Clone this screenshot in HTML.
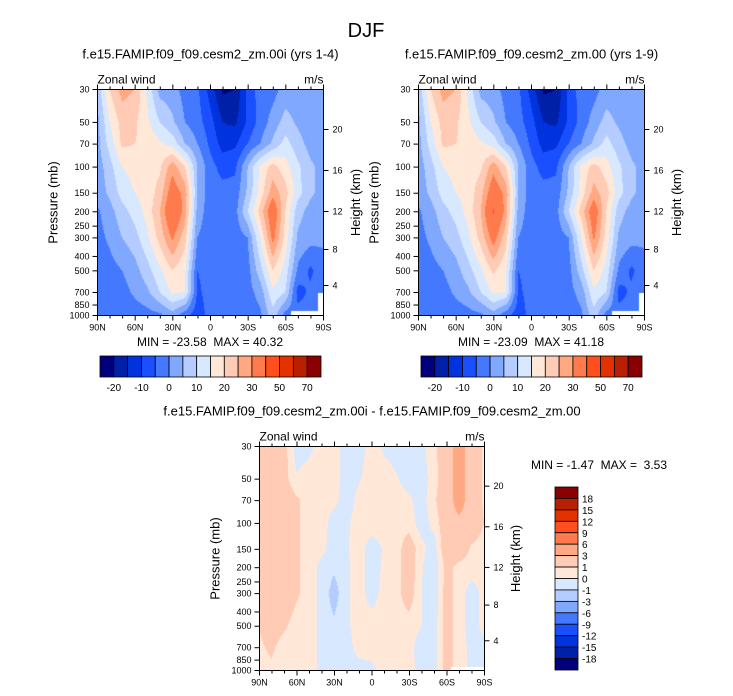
<!DOCTYPE html>
<html><head><meta charset="utf-8">
<style>
body{margin:0;background:#fff;width:733px;height:696px;overflow:hidden;position:relative;font-family:"Liberation Sans",sans-serif}
canvas{position:absolute}
svg{position:absolute;left:0;top:0}
</style></head>
<body>
<canvas id="c1" width="226" height="226" style="left:97px;top:89px"></canvas>
<canvas id="c2" width="226" height="226" style="left:418px;top:89px"></canvas>
<canvas id="c3" width="225" height="224" style="left:259px;top:446px"></canvas>
<svg id="ov" width="733" height="696"></svg>
<script>
// ---- data ----
const lats = [90,80,70,60,50,40,30,20,10,0,-10,-20,-30,-40,-50,-60,-70,-80,-90];
const plev = [30,50,70,100,150,200,300,500,700,1000];
const uA = [
 [6,20,27,25,14,3,2,-2,-4,-12,-21,-20,-8,-3,-2,2,2,2,2],
 [3,15,22,21,16,10,6,0,-3,-8,-15,-16,-9,-3,2,7,4,2,2],
 [3,12,21,20,19,16,13,5,0,-6,-12,-11,-5,0,6,12,7,3,2],
 [2,8,15,17,18,19,28,20,5,-3,-7,-6,5,16,22,17,11,6,3],
 [2,6,12,15,17,22,34,28,5,-3,-3,-3,6,17,28,22,12,6,3],
 [-1,3,8,12,17,25,38,28,3,-3,-3,-2,10,22,36,20,7,3,3],
 [-2,1,5,8,14,22,31,22,0,-3,-3,-3,0,15,32,18,4,2,1],
 [-3,-2,0,3,8,14,20,16,-5,-3,-3,-3,-2,8,20,13,-1,-6,-2],
 [-3,-3,-2,1,4,10,16,15,-6,-3,-3,-3,-2,2,14,10,-7,-4,-2],
 [-3,-3,-3,-3,-2,-1,3,-3,-8,-3,-3,-3,-3,-1,8,-2,-3,-3,-3]
];
const uB = [
 [6,20,27,25,14,3,2,-2,-4,-12,-21,-20,-8,-3,-2,2,2,2,2],
 [3,15,22,21,16,10,6,0,-3,-8,-15,-16,-9,-3,2,7,4,2,2],
 [3,12,21,20,19,16,13,5,0,-6,-12,-11,-5,0,6,12,7,3,2],
 [2,8,15,17,18,19,28,20,5,-3,-7,-6,5,16,22,17,11,6,3],
 [2,6,12,15,17,23,35,28,5,-3,-3,-3,6,17,27,22,12,6,3],
 [-1,3,8,12,17,25,41,28,3,-3,-3,-2,10,22,35,20,7,3,3],
 [-2,1,5,8,14,22,33,22,0,-3,-3,-3,0,15,31,18,4,2,1],
 [-3,-2,0,3,8,14,21,16,-5,-3,-3,-3,-2,8,20,13,-1,-6,-2],
 [-3,-3,-2,1,4,10,16,15,-6,-3,-3,-3,-2,2,14,10,-7,-4,-2],
 [-3,-3,-3,-3,-2,-1,3,-3,-8,-3,-3,-3,-3,-1,8,-2,-3,-3,-3]
];
const uDiff = [
 [1.2,2,1.5,-0.5,-0.3,0.5,0.5,-0.5,-0.5,0.5,-0.2,-0.5,-0.5,-0.3,0.7,2,4,2,0.8],
 [1,2,1.5,0.1,0.5,0.5,0.5,-0.5,-0.1,0.5,0.5,0.1,-0.5,-0.5,0.5,2,4,2,0.8],
 [1,2.5,2,1.2,0.5,0.5,0.3,-0.5,0.3,0.5,0.5,0.5,0.2,-0.5,0.8,2,4,2,0.8],
 [1.2,2,2,1.2,0.5,0.5,-0.5,-0.2,0.5,0.5,0.5,0.5,0.5,-0.5,0.3,2,2.5,2,1],
 [1.2,2,2,1.2,0.5,0.3,-0.5,-0.1,0.5,-0.5,0.1,0.5,1.8,0.3,-0.5,2,2,0.8,0.5],
 [1,2,2,1.2,0.5,-0.3,-0.8,-0.2,0.5,-0.6,0.2,0.5,1.8,0.1,-0.8,1.5,0.6,0.5,0.5],
 [1.2,2,2,1.2,0.5,-0.3,-1.5,-0.2,0.5,-0.5,0.4,0.6,1.7,0,-0.8,1.6,0.5,-0.5,0.3],
 [1,1.8,1.2,0.5,0.5,-0.3,-0.8,-0.2,0.5,0.5,0.5,0.5,0.5,0,-0.5,1.5,0.5,-0.5,0.3],
 [0.8,1.2,0.5,0.5,0.5,-0.3,-0.5,-0.5,0.5,0.5,0.5,0.5,0.3,-0.5,-0.5,1.5,0.5,-0.3,-0.3],
 [0.5,0.8,0.5,0.5,0.5,-0.3,-0.5,-0.5,-0.5,-0.3,0.5,0.5,0.5,-0.5,-0.5,1.5,0.5,-0.3,-0.3]
];
const levMain = [-20,-15,-10,-5,0,5,10,15,20,25,30,40,50,60,70];
const levDiff = [-18,-15,-12,-9,-6,-3,-1,0,1,3,6,9,12,15,18];
const cbLabMain = ["-20","-10","0","10","20","30","50","70"];
const cbLabDiff = ["18","15","12","9","6","3","1","0","-1","-3","-6","-9","-12","-15","-18"];
const colors = ["#00007f","#0020a8","#0033dd","#1a4fff","#4479ff","#80a8ff","#b4ccff","#d7e8ff","#ffe8d8","#ffcbb5","#ffa882","#ff7a4c","#ff4f1e","#e33200","#b82000","#8a0000"];
const xTickLab = ["90N","60N","30N","0","30S","60S","90S"];
const pTickLab = [30,50,70,100,150,200,250,300,400,500,700,850,1000];
const hTickLab = [20,16,12,8,4];
const hTickOff = [40,81,122,160,196];

function hex(c){return [parseInt(c.substr(1,2),16),parseInt(c.substr(3,2),16),parseInt(c.substr(5,2),16)];}
const rgb = colors.map(hex);
const LP0=Math.log10(30), LP1=Math.log10(1000);
function drawField(id, data, lev, white){
  const cv=document.getElementById(id), ctx=cv.getContext('2d');
  const W=cv.width,H=cv.height, img=ctx.createImageData(W,H);
  const lp=plev.map(p=>Math.log10(p));
  for(let y=0;y<H;y++){
    const l=LP0+(y+0.5)/H*(LP1-LP0);
    let r=0; while(r<plev.length-2 && lp[r+1]<l) r++;
    const fy=Math.min(1,Math.max(0,(l-lp[r])/(lp[r+1]-lp[r])));
    for(let x=0;x<W;x++){
      const gx=(x+0.5)/W*(lats.length-1);
      let c=Math.min(lats.length-2,Math.floor(gx)); const fx=gx-c;
      const v=(data[r][c]*(1-fx)+data[r][c+1]*fx)*(1-fy)+(data[r+1][c]*(1-fx)+data[r+1][c+1]*fx)*fy;
      let k=0; while(k<lev.length && v>=lev[k]) k++;
      const col=rgb[k], i=(y*W+x)*4;
      img.data[i]=col[0];img.data[i+1]=col[1];img.data[i+2]=col[2];img.data[i+3]=255;
    }
  }
  ctx.putImageData(img,0,0);
  if(white){ctx.fillStyle='#fff';white.forEach(r=>ctx.fillRect(r[0],r[1],r[2],r[3]));}
}
drawField('c1',uA,levMain,[[221,204,5,22],[194,222,32,4]]);
drawField('c2',uB,levMain,[[221,204,5,22],[194,222,32,4]]);
drawField('c3',uDiff,levDiff,[[192,221,33,3]]);

const NS='http://www.w3.org/2000/svg', ov=document.getElementById('ov');
function el(tag,attrs,txt){const e=document.createElementNS(NS,tag);for(const k in attrs)e.setAttribute(k,attrs[k]);if(txt!==undefined)e.textContent=txt;ov.appendChild(e);return e;}
function txt(x,y,s,size,anchor,name,rot){
  const a={x:x,y:y,'font-size':size,'text-anchor':anchor||'middle',fill:'#000','font-family':'Liberation Sans, sans-serif'};
  if(rot)a.transform='rotate(-90 '+x+' '+y+')';
  const t=el('text',a,s);
  
  
  return t;
}
function line(x1,y1,x2,y2,w){return el('line',{x1:x1,y1:y1,x2:x2,y2:y2,stroke:'#000','stroke-width':w||1});}

function axes(x0,y0,W,H,pre,title,minmax,mmx,mmy,htx){
  const fr=el('rect',{x:x0,y:y0,width:W,height:H,fill:'none',stroke:'#000','stroke-width':1});
  
  
  txt(x0+W/2,y0-31,title,13,'middle',pre+'-title');
  txt(x0,y0-6,'Zonal wind',12,'start',pre+'-variable-label');
  txt(x0+W,y0-6,'m/s',12,'end',pre+'-units-label');
  for(let i=0;i<=18;i++){
    const x=x0+i*W/18, maj=i%3==0, L=maj?5:3;
    line(x,y0+H,x,y0+H+L); line(x,y0,x,y0-L);
    if(maj) txt(x,y0+H+15,xTickLab[i/3],9,'middle',pre+'-x-tick-label');
  }
  pTickLab.forEach(p=>{
    const y=y0+(Math.log10(p)-LP0)/(LP1-LP0)*H;
    line(x0-5,y,x0,y);
    txt(x0-8,y+3,String(p),9,'end',pre+'-y-tick-label');
  });
  hTickLab.forEach((h,i)=>{
    const y=y0+hTickOff[i]*H/226;
    line(x0+W,y,x0+W+5,y);
    txt(x0+W+9,y+3,String(h),9,'start',pre+'-height-tick-label');
  });
  txt(x0-40,y0+H/2,'Pressure (mb)',13,'middle',pre+'-y-axis-title',true);
  txt(htx,y0+H/2,'Height (km)',13,'middle',pre+'-height-axis-title',true);
  txt(mmx,mmy,minmax,12,'middle',pre+'-min-max');
}
function hbar(x0,y0,W,H,pre){
  const n=16,bw=W/n;
  for(let i=0;i<n;i++){
    const r=el('rect',{x:x0+i*bw,y:y0,width:bw,height:H,fill:colors[i],stroke:'#000','stroke-width':0.8});
    
    
  }
  cbLabMain.forEach((s,j)=>txt(x0+(2*j+1)*bw,y0+H+14,s,10,'middle',pre+'-colorbar-label'));
}
txt(366,37,'DJF',20,'middle','main-title');
axes(97.5,89.5,226,226,'plot-1','f.e15.FAMIP.f09_f09.cesm2_zm.00i (yrs 1-4)','MIN = -23.58\u00a0\u00a0MAX = 40.32',210,346,360);
axes(418.5,89.5,226,226,'plot-2','f.e15.FAMIP.f09_f09.cesm2_zm.00 (yrs 1-9)','MIN = -23.09\u00a0\u00a0MAX = 41.18',531,346,681);
axes(259.5,446.5,225,224,'diff-plot','f.e15.FAMIP.f09_f09.cesm2_zm.00i - f.e15.FAMIP.f09_f09.cesm2_zm.00','MIN = -1.47\u00a0\u00a0MAX =\u00a0\u00a03.53',599,469,520);
hbar(100,356,221,21,'plot-1');
hbar(421,356,221,21,'plot-2');
(function(){const x0=555,y0=487,W=23,H=183,n=16,bh=H/n;
  for(let i=0;i<n;i++){
    const r=el('rect',{x:x0,y:y0+i*bh,width:W,height:bh,fill:colors[n-1-i],stroke:'#000','stroke-width':0.8});
    
    
  }
  cbLabDiff.forEach((s,j)=>txt(x0+W+4,y0+(j+1)*bh+4,s,10,'start','diff-colorbar-label'));
})();
</script>
</body></html>
